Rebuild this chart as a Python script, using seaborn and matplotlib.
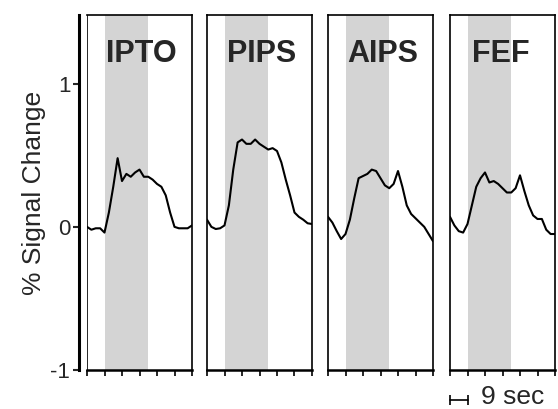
# % signal change time courses for four regions (IPTO, PIPS, AIPS, FEF)

import numpy as np
import pandas as pd
import seaborn as sns
import matplotlib.pyplot as plt

sns.set_style('ticks')
plt.rcParams['font.family'] = ['Liberation Sans', 'DejaVu Sans']

regions = ['IPTO', 'PIPS', 'AIPS', 'FEF']

# sample times (sec), one scan every 2.25 s
times = [0, 2.25, 4.5, 6.75, 9, 11.25, 13.5, 15.75, 18, 20.25, 22.5, 24.75, 27,
         29.25, 31.5, 33.75, 36, 38.25, 40.5, 42.75, 45, 47.25, 49.5, 51.75, 54]

ipto = [0.0, -0.02, -0.01, -0.01, -0.04, 0.10, 0.28, 0.48, 0.32, 0.37, 0.35, 0.38, 0.40,
        0.35, 0.35, 0.33, 0.30, 0.28, 0.22, 0.10, 0.0, -0.01, -0.01, -0.01, 0.01]
pips = [0.05, 0.0, -0.015, -0.01, 0.01, 0.15, 0.40, 0.59, 0.61, 0.58, 0.58, 0.61, 0.58,
        0.56, 0.54, 0.55, 0.53, 0.45, 0.33, 0.22, 0.10, 0.07, 0.05, 0.025, 0.02]
aips = [0.07, 0.03, -0.03, -0.085, -0.05, 0.05, 0.20, 0.34, 0.355, 0.37, 0.40, 0.39, 0.34,
        0.29, 0.27, 0.30, 0.39, 0.28, 0.15, 0.09, 0.06, 0.03, 0.0, -0.05, -0.10]
fef = [0.07, 0.01, -0.03, -0.04, 0.02, 0.15, 0.28, 0.34, 0.38, 0.31, 0.32, 0.30, 0.27,
       0.24, 0.24, 0.27, 0.36, 0.25, 0.15, 0.08, 0.055, 0.055, -0.02, -0.05, -0.05]

stim_on, stim_off = 9, 31.5
xticks = [0, 9, 18, 27, 36, 45, 54]

df = pd.DataFrame({
    'time': times * 4,
    'signal': ipto + pips + aips + fef,
    'region': np.repeat(regions, len(times)),
})

fig = plt.figure(figsize=(5.58, 4.09), dpi=100)
lefts = [87, 207, 328, 450]
W, H = 558, 409
bottom = 39 / H
height = 355 / H
width = 105 / W

axes = []
for i, reg in enumerate(regions):
    ax = fig.add_axes([lefts[i] / W, bottom, width, height])
    axes.append(ax)
    ax.axvspan(stim_on, stim_off, color='#d4d4d4', lw=0, zorder=0)
    sns.lineplot(data=df[df['region'] == reg], x='time', y='signal', ax=ax,
                 color='black', lw=1.5, zorder=3)
    ax.set_xlim(0, 54)
    ax.set_ylim(-1, 1.48)
    ax.set_xticks(xticks)
    ax.set_xticklabels([])
    ax.tick_params(axis='x', direction='out', length=4, width=1.2, color='black')
    ax.set_xlabel('')
    ax.set_ylabel('')
    for s in ['top', 'right', 'left']:
        ax.spines[s].set_linewidth(1.2)
        ax.spines[s].set_color('black')
    ax.spines['bottom'].set_linewidth(1.8)
    ax.spines['bottom'].set_color('black')
    ax.text(0.52 if i < 3 else 0.48, 0.868, reg, transform=ax.transAxes, ha='center',
            va='baseline', fontsize=22, fontweight='bold')
    if i > 0:
        ax.set_yticks([])

# y axis of the first panel sits a little out from its frame
ax1 = axes[0]
ax1.spines['left'].set_position(('outward', 6))
ax1.spines['left'].set_linewidth(2.2)
ax1.axvline(0, color='black', lw=1.2, zorder=4)
ax1.set_yticks([-1, 0, 1])
ax1.set_yticklabels(['-1', '0', '1'])
ax1.tick_params(axis='y', direction='out', length=4, width=1.5, labelsize=16, pad=2)
ax1.set_ylabel('% Signal Change', fontsize=19, labelpad=3)

# scale bar
ax4 = axes[3]
ax4.plot([0, 9], [-1.21, -1.21], color='black', lw=1.2, clip_on=False)
ax4.plot([0, 9], [-1.21, -1.21], ls='none', marker='|', ms=7, mew=1.2,
         color='black', clip_on=False)
ax4.text(16, -1.235, '9 sec', ha='left', va='baseline', fontsize=19, clip_on=False)

fig.savefig('out.png', dpi=100)
